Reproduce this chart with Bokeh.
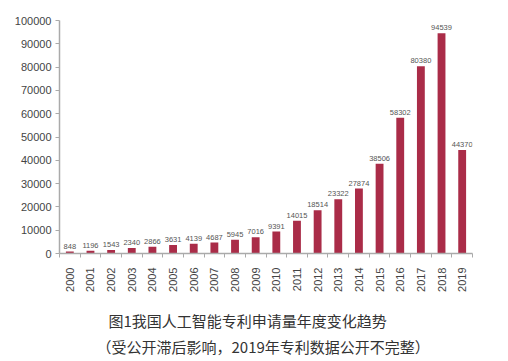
import math
from bokeh.plotting import figure
from bokeh.models import FixedTicker, Title, ColumnDataSource, Range1d
from bokeh.core.properties import value
from bokeh.embed import file_html
from bokeh.resources import INLINE

years = ["2000", "2001", "2002", "2003", "2004", "2005", "2006", "2007", "2008", "2009",
         "2010", "2011", "2012", "2013", "2014", "2015", "2016", "2017", "2018", "2019"]
counts = [848, 1196, 1543, 2340, 2866, 3631, 4139, 4687, 5945, 7016,
          9391, 14015, 18514, 23322, 27874, 38506, 58302, 80380, 94539, 44370]
y_ticks = [0, 10000, 20000, 30000, 40000, 50000, 60000, 70000, 80000, 90000, 100000]
caption1 = "图1我国人工智能专利申请量年度变化趋势"
caption2 = "（受公开滞后影响，2019年专利数据公开不完整）"

idx = list(range(len(years)))
src = ColumnDataSource(dict(x=idx, y=counts, lab=[str(c) for c in counts]))

p = figure(width=500, height=361, output_backend="svg", toolbar_location=None,
           x_range=Range1d(-0.5, len(years) - 0.5), y_range=Range1d(0, 100000),
           min_border_left=59, min_border_right=28, min_border_top=20, min_border_bottom=108)
p.outline_line_color = None
p.grid.visible = False
p.background_fill_color = "white"

p.vbar(x="x", top="y", width=0.38, source=src, fill_color="#AA2C48", line_color=None)
p.text(x="x", y="y", text="lab", source=src, text_align="center", text_baseline="bottom",
       y_offset=-3, text_font_size="7.5px", text_color="#555555",
       text_font=value("Liberation Sans"))

ax = p.xaxis[0]
ax.ticker = FixedTicker(ticks=idx, minor_ticks=[i - 0.5 for i in range(len(years) + 1)])
ax.major_label_overrides = {i: y for i, y in enumerate(years)}
ax.major_label_orientation = math.pi / 2
ax.major_tick_line_color = None
ax.minor_tick_line_color = "#AAAAAA"
ax.minor_tick_out = 4
ax.minor_tick_in = 0
ax.axis_line_color = "#AAAAAA"
ax.axis_line_width = 1.5
ax.major_label_text_font = "Liberation Sans"
ax.major_label_text_font_size = "11px"
ax.major_label_text_color = "#444444"
ax.major_label_standoff = 8

ay = p.yaxis[0]
ay.ticker = FixedTicker(ticks=y_ticks)
ay.minor_tick_line_color = None
ay.major_tick_line_color = "#AAAAAA"
ay.major_tick_out = 4
ay.major_tick_in = 0
ay.axis_line_color = "#AAAAAA"
ay.axis_line_width = 1.5
ay.major_label_text_font = "Liberation Sans"
ay.major_label_text_font_size = "11px"
ay.major_label_text_color = "#444444"
ay.major_label_standoff = 4
ay.formatter.use_scientific = False

t1 = Title(text=caption1, align="left", offset=49, standoff=26,
           text_font="Noto Sans CJK SC", text_font_size="15px", text_color="#333333",
           text_font_style="normal")
t2 = Title(text=caption2, align="left", offset=37, standoff=-20,
           text_font="Noto Sans CJK SC", text_font_size="15px", text_color="#333333",
           text_font_style="normal")
p.add_layout(t1, "below")
p.add_layout(t2, "below")

open("out.html", "w").write(file_html(p, INLINE))
